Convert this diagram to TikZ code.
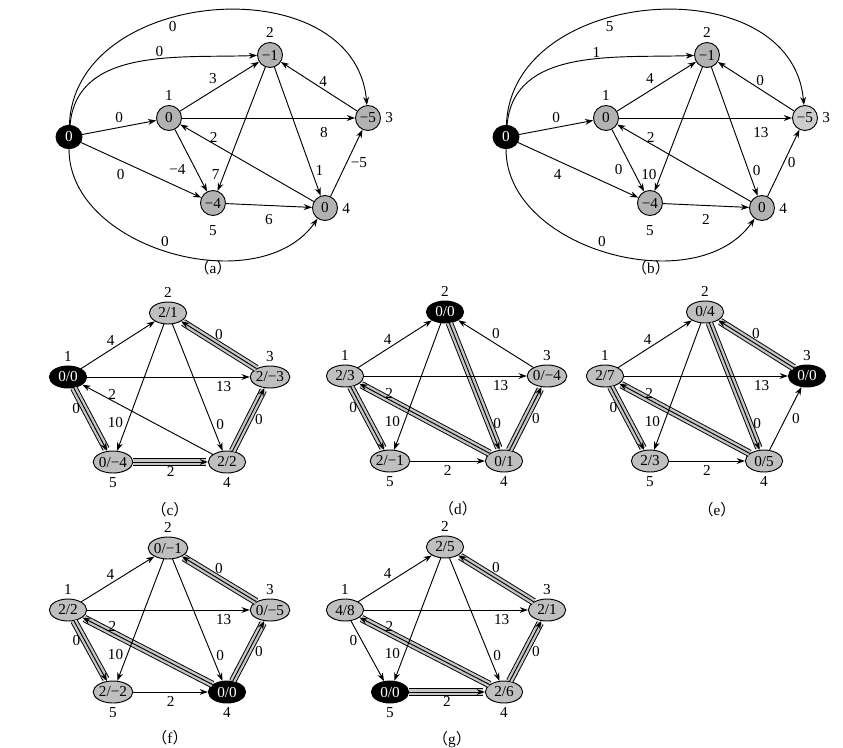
\documentclass[tikz,border=0pt]{standalone}
\usepackage{fontspec}
\setmainfont{Liberation Serif}
\newfontfamily\cjk{Noto Sans CJK SC}
\usetikzlibrary{shapes.geometric,arrows.meta}
\begin{document}
\begin{tikzpicture}[x=0.03cm, y=-0.03cm, >={Stealth[length=7pt,width=5pt]}, line width=0.8pt,
  every node/.style={font=\fontsize{13}{15}\selectfont},
  vtx/.style={circle,draw,fill=gray!60,minimum size=0.75cm,inner sep=0pt},
  src/.style={ellipse,draw,fill=black,text=white,minimum width=0.78cm,minimum height=0.7cm,inner sep=0pt},
  pv/.style={ellipse,draw,fill=gray!50,minimum width=1.12cm,minimum height=0.66cm,inner sep=0pt},
  pb/.style={pv,fill=black,text=white},
  tree/.style={->,preaction={draw=black,line width=6.4pt,-,shorten >=2pt},preaction={draw=gray!45,line width=4.8pt,-,shorten >=2pt}}]
  \useasboundingbox (0,0) rectangle (843,747);
  % (a) graph with the extra source
  \node[src] (s) at (69,137) {0};
  \node[vtx,label=above:1] (v1) at (169,118) {0};
  \node[vtx,label=above:2] (v2) at (270,55) {−1};
  \node[vtx,label=right:3] (v3) at (368,118) {−5};
  \node[vtx,label=right:4] (v4) at (325,208) {0};
  \node[vtx,label={[label distance=4pt]below:5}] (v5) at (213,203) {−4};
  \draw[->] (s) to[out=88,in=95,looseness=1.2] node[pos=.4,below] {0} (v3);
  \draw[->] (s) to[out=85,in=182] node[pos=.6,above,inner sep=1pt] {0} (v2);
  \draw[->] (s) -- node[above] {0} (v1);
  \draw[->] (s) -- node[pos=.33,below=4pt] {0} (v5);
  \draw[->] (s) to[out=-90,in=-125] node[pos=.48,above] {0} (v4);
  \draw[->] (v1) -- node[above left,inner sep=2pt] {3} (v2);
  \draw[->] (v1) -- node[pos=.82,below=4pt] {8} (v3);
  \draw[->] (v1) -- node[pos=.65,left=5pt] {−4} (v5);
  \draw[->] (v2) -- node[pos=.87,left] {7} (v5);
  \draw[->] (v2) -- node[pos=.8,right] {1} (v4);
  \draw[->] (v3) -- node[above right,inner sep=0pt] {4} (v2);
  \draw[->] (v4) -- node[pos=.75,above,inner sep=1pt] {2} (v1);
  \draw[->] (v4) -- node[right] {−5} (v3);
  \draw[->] (v5) -- node[below=4pt] {6} (v4);
  \node (capa) at (213,268) {{\cjk （}a{\cjk ）}};
  % (b) reweighted graph
  \begin{scope}[shift={(437,0)}]
    \node[src] (bs) at (69,137) {0};
    \node[vtx,label=above:1] (bv1) at (169,118) {0};
    \node[vtx,label=above:2] (bv2) at (270,55) {−1};
    \node[vtx,fill=gray!40,label=right:3] (bv3) at (368,118) {−5};
    \node[vtx,label=right:4] (bv4) at (325,208) {0};
    \node[vtx,label={[label distance=4pt]below:5}] (bv5) at (213,203) {−4};
    \draw[->] (bs) to[out=88,in=95,looseness=1.2] node[pos=.4,below] {5} (bv3);
    \draw[->] (bs) to[out=85,in=182] node[pos=.6,above,inner sep=1pt] {1} (bv2);
    \draw[->] (bs) -- node[above] {0} (bv1);
    \draw[->] (bs) -- node[pos=.33,below=4pt] {4} (bv5);
    \draw[->] (bs) to[out=-90,in=-125] node[pos=.48,above] {0} (bv4);
    \draw[->] (bv1) -- node[above left,inner sep=2pt] {4} (bv2);
    \draw[->] (bv1) -- node[pos=.82,below=4pt] {13} (bv3);
    \draw[->] (bv1) -- node[pos=.65,left=5pt] {0} (bv5);
    \draw[->] (bv2) -- node[pos=.87,left] {10} (bv5);
    \draw[->] (bv2) -- node[pos=.8,right] {0} (bv4);
    \draw[->] (bv3) -- node[above right,inner sep=0pt] {0} (bv2);
    \draw[->] (bv4) -- node[pos=.75,above,inner sep=1pt] {2} (bv1);
    \draw[->] (bv4) -- node[right] {0} (bv3);
    \draw[->] (bv5) -- node[below=4pt] {2} (bv4);
    \node (capb) at (214,268) {{\cjk （}b{\cjk ）}};
  \end{scope}
  % (c) source 1
  \begin{scope}[shift={(68,377)}]
    \node[pb,label=above:1] (c1) at (0,0) {0/0};
    \node[pv,label=above:2] (c2) at (100,-64) {2/1};
    \node[pv,label=above:3] (c3) at (202,0) {2/−3};
    \node[pv,label=below:4] (c4) at (159,85) {2/2};
    \node[pv,label=below:5] (c5) at (45,85) {0/−4};
    \draw[tree] (c1) -- node[pos=.32,left] {0} (c5);
    \draw[tree] (c5) -- node[below] {2} (c4);
    \draw[tree] (c4) -- node[right=2pt] {0} (c3);
    \draw[tree] (c3) -- node[above=1pt] {0} (c2);
    \draw[->] (c1) -- node[pos=.4,above] {4} (c2);
    \draw[->] (c1) -- node[pos=.84,below] {13} (c3);
    \draw[->] (c2) -- node[pos=.78,left] {10} (c5);
    \draw[->] (c2) -- node[pos=.79,right] {0} (c4);
    \draw[->] (c4) -- node[pos=.77,above,inner sep=1pt] {2} (c1);
    \node (capc) at (102,133) {{\cjk （}c{\cjk ）}};
  \end{scope}
  % (d) source 2
  \begin{scope}[shift={(345,376)}]
    \node[pv,label=above:1] (d1) at (0,0) {2/3};
    \node[pb,label=above:2] (d2) at (100,-64) {0/0};
    \node[pv,label=above:3] (d3) at (202,0) {0/−4};
    \node[pv,label=below:4] (d4) at (159,85) {0/1};
    \node[pv,label=below:5] (d5) at (45,85) {2/−1};
    \draw[tree] (d2) -- node[pos=.79,right] {0} (d4);
    \draw[tree] (d4) -- node[pos=.77,above,inner sep=1pt] {2} (d1);
    \draw[tree] (d1) -- node[pos=.32,left] {0} (d5);
    \draw[tree] (d4) -- node[right=2pt] {0} (d3);
    \draw[->] (d1) -- node[pos=.4,above] {4} (d2);
    \draw[->] (d1) -- node[pos=.84,below] {13} (d3);
    \draw[->] (d2) -- node[pos=.78,left] {10} (d5);
    \draw[->] (d3) -- node[above=1pt] {0} (d2);
    \draw[->] (d5) -- node[below] {2} (d4);
    \node (capd) at (113,133) {{\cjk （}d{\cjk ）}};
  \end{scope}
  % (e) source 3
  \begin{scope}[shift={(605,376)}]
    \node[pv,label=above:1] (e1) at (0,0) {2/7};
    \node[pv,label=above:2] (e2) at (100,-64) {0/4};
    \node[pb,label=above:3] (e3) at (202,0) {0/0};
    \node[pv,label=below:4] (e4) at (159,85) {0/5};
    \node[pv,label=below:5] (e5) at (45,85) {2/3};
    \draw[tree] (e3) -- node[above=1pt] {0} (e2);
    \draw[tree] (e2) -- node[pos=.79,right] {0} (e4);
    \draw[tree] (e4) -- node[pos=.77,above,inner sep=1pt] {2} (e1);
    \draw[tree] (e1) -- node[pos=.32,left] {0} (e5);
    \draw[->] (e1) -- node[pos=.4,above] {4} (e2);
    \draw[->] (e1) -- node[pos=.84,below] {13} (e3);
    \draw[->] (e2) -- node[pos=.78,left] {10} (e5);
    \draw[->] (e4) -- node[right=2pt] {0} (e3);
    \draw[->] (e5) -- node[below] {2} (e4);
    \node (cape) at (112,134) {{\cjk （}e{\cjk ）}};
  \end{scope}
  % (f) source 4
  \begin{scope}[shift={(68,610)}]
    \node[pv,label=above:1] (f1) at (0,0) {2/2};
    \node[pv,label=above:2] (f2) at (100,-62) {0/−1};
    \node[pv,label=above:3] (f3) at (202,0) {0/−5};
    \node[pb,label=below:4] (f4) at (159,82) {0/0};
    \node[pv,label=below:5] (f5) at (45,82) {2/−2};
    \draw[tree] (f4) -- node[pos=.77,above,inner sep=1pt] {2} (f1);
    \draw[tree] (f1) -- node[pos=.32,left] {0} (f5);
    \draw[tree] (f4) -- node[right=2pt] {0} (f3);
    \draw[tree] (f3) -- node[above=1pt] {0} (f2);
    \draw[->] (f1) -- node[pos=.4,above] {4} (f2);
    \draw[->] (f1) -- node[pos=.84,below] {13} (f3);
    \draw[->] (f2) -- node[pos=.78,left] {10} (f5);
    \draw[->] (f2) -- node[pos=.79,right] {0} (f4);
    \draw[->] (f5) -- node[below] {2} (f4);
    \node (capf) at (102,128) {{\cjk （}f{\cjk ）}};
  \end{scope}
  % (g) source 5
  \begin{scope}[shift={(345,610)}]
    \node[pv,label=above:1] (g1) at (0,0) {4/8};
    \node[pv,label=above:2] (g2) at (100,-63) {2/5};
    \node[pv,label=above:3] (g3) at (202,0) {2/1};
    \node[pv,label=below:4] (g4) at (159,82) {2/6};
    \node[pb,label=below:5] (g5) at (45,82) {0/0};
    \draw[tree] (g5) -- node[below] {2} (g4);
    \draw[tree] (g4) -- node[pos=.77,above,inner sep=1pt] {2} (g1);
    \draw[tree] (g4) -- node[right=2pt] {0} (g3);
    \draw[tree] (g3) -- node[above=1pt] {0} (g2);
    \draw[->] (g1) -- node[pos=.4,above] {4} (g2);
    \draw[->] (g1) -- node[pos=.84,below] {13} (g3);
    \draw[->] (g1) -- node[pos=.32,left] {0} (g5);
    \draw[->] (g2) -- node[pos=.78,left] {10} (g5);
    \draw[->] (g2) -- node[pos=.79,right] {0} (g4);
    \node (capg) at (107,130) {{\cjk （}g{\cjk ）}};
  \end{scope}
\end{tikzpicture}
\end{document}
